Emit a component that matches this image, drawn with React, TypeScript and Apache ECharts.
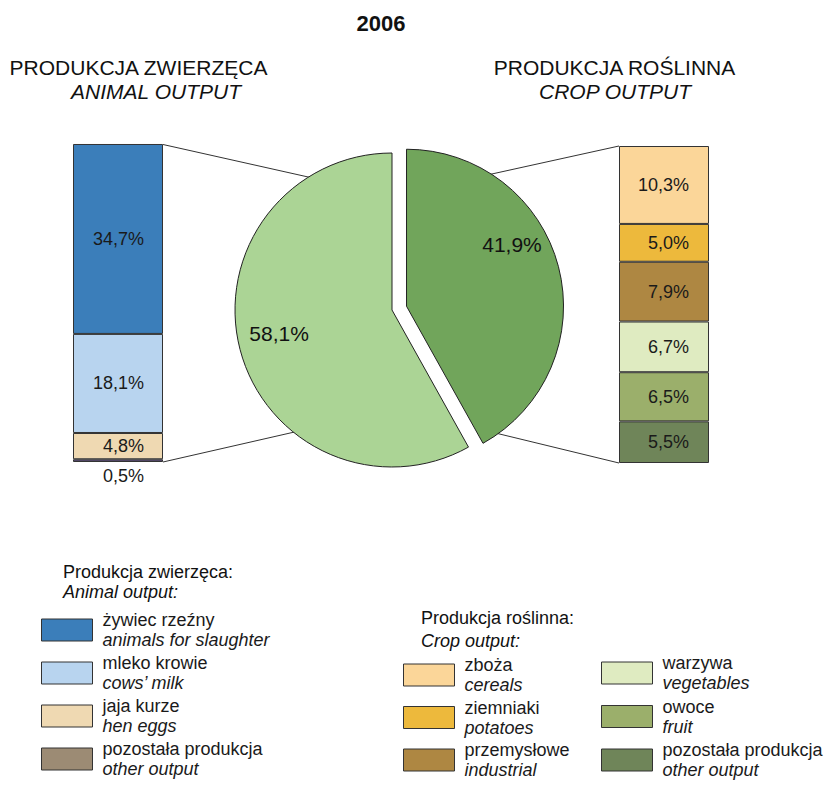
import React, { useEffect, useRef } from "react";
import * as echarts from "echarts";

const FONT = "'Liberation Sans', Arial, Helvetica, sans-serif";

const chartTitle = "2006";
const animalHeading = ["PRODUKCJA ZWIERZĘCA", "ANIMAL OUTPUT"];
const cropHeading = ["PRODUKCJA ROŚLINNA", "CROP OUTPUT"];
const animalLegendHeading = ["Produkcja zwierzęca:", "Animal output:"];
const cropLegendHeading = ["Produkcja roślinna:", "Crop output:"];

// top-to-bottom order in the stacked bars
const animalNamesPl = ["żywiec rzeźny", "mleko krowie", "jaja kurze", "pozostała produkcja"];
const animalNamesEn = ["animals for slaughter", "cows’ milk", "hen eggs", "other output"];
const animalValues = [34.7, 18.1, 4.8, 0.5];
const animalColors = ["#3B7EBA", "#B8D4EF", "#EFD9B2", "#5E4F78"];
const animalLegendColors = ["#3B7EBA", "#B8D4EF", "#EFD9B2", "#9C8B74"];

const cropNamesPl = ["zboża", "ziemniaki", "przemysłowe", "warzywa", "owoce", "pozostała produkcja"];
const cropNamesEn = ["cereals", "potatoes", "industrial", "vegetables", "fruit", "other output"];
const cropValues = [10.3, 5.0, 7.9, 6.7, 6.5, 5.5];
const cropColors = ["#FBD699", "#EDB93C", "#AE8742", "#DFEBC1", "#9BAF6B", "#6F8559"];

const pieColors = { crop: "#71A55B", animal: "#ABD495" };

const fmt = (v: number) => v.toFixed(1).replace(".", ",") + "%";
const sum = (a: number[]) => Math.round(a.reduce((s, v) => s + v, 0) * 10) / 10;

export default function App() {
  const ref = useRef<HTMLDivElement>(null);

  useEffect(() => {
    if (!ref.current) return;
    const chart = echarts.init(ref.current, null, { renderer: "svg" });

    const animalTotal = sum(animalValues);
    const cropTotal = sum(cropValues);

    const nameMap: Record<string, [string, string]> = {};
    animalNamesPl.forEach((n, i) => (nameMap["a" + i] = [n, animalNamesEn[i]]));
    cropNamesPl.forEach((n, i) => (nameMap["c" + i] = [n, cropNamesEn[i]]));

    const barBorder = { borderColor: "#333333", borderWidth: 1 };
    const series: any[] = [];

    for (let i = animalValues.length - 1; i >= 0; i--) {
      const last = i === animalValues.length - 1;
      series.push({
        type: "bar",
        name: "a" + i,
        stack: "animal",
        xAxisIndex: 0,
        yAxisIndex: 0,
        barWidth: "100%",
        data: [animalValues[i]],
        itemStyle: { color: animalColors[i], ...barBorder },
        label: {
          show: true,
          position: last ? "bottom" : "inside",
          distance: 5,
          align: "right",
          offset: [26, 0],
          formatter: (p: any) => fmt(p.value),
          fontSize: 18,
          fontFamily: FONT,
          color: "#1a1a1a",
        },
      });
    }
    for (let i = cropValues.length - 1; i >= 0; i--) {
      series.push({
        type: "bar",
        name: "c" + i,
        stack: "crop",
        xAxisIndex: 1,
        yAxisIndex: 1,
        barWidth: "100%",
        data: [cropValues[i]],
        itemStyle: { color: cropColors[i], ...barBorder },
        label: {
          show: true,
          position: "inside",
          align: "right",
          offset: [25, 0],
          formatter: (p: any) => fmt(p.value),
          fontSize: 18,
          fontFamily: FONT,
          color: "#1a1a1a",
        },
      });
    }

    const pieLabel = {
      show: true,
      position: "inside",
      formatter: (p: any) => fmt(p.value),
      fontSize: 21,
      fontFamily: FONT,
      color: "#111111",
    };
    const cropOffset = [27, -52];
    const animalOffset = [-34, 3];

    series.push({
      type: "pie",
      name: "total",
      center: [392, 310],
      radius: 157,
      startAngle: 90,
      clockwise: true,
      selectedMode: "single",
      selectedOffset: 15,
      emphasis: { disabled: true },
      label: pieLabel,
      labelLine: { show: false },
      itemStyle: { borderColor: "#222222", borderWidth: 1 },
      data: [
        {
          value: cropTotal,
          name: "crop",
          selected: true,
          itemStyle: { color: pieColors.crop },
          label: { offset: cropOffset },
          select: {
            itemStyle: { color: pieColors.crop, borderColor: "#222222", borderWidth: 1 },
            label: { ...pieLabel, offset: cropOffset },
          },
        },
        {
          value: animalTotal,
          name: "animal",
          itemStyle: { color: pieColors.animal },
          label: { offset: animalOffset },
          select: { label: { ...pieLabel, offset: animalOffset } },
        },
      ],
    });

    const legendText = {
      formatter: (name: string) => `{a|${nameMap[name][0]}}\n{b|${nameMap[name][1]}}`,
      textStyle: {
        rich: {
          a: { fontSize: 18, lineHeight: 20, fontFamily: FONT, color: "#1a1a1a", padding: [0, 0, 0, 5] },
          b: { fontSize: 18, lineHeight: 20, fontFamily: FONT, fontStyle: "italic", color: "#1a1a1a", padding: [0, 0, 0, 5] },
        },
      },
    };
    const legendBase = {
      orient: "vertical",
      icon: "rect",
      itemWidth: 51,
      itemHeight: 22,
      padding: 0,
      selectedMode: false,
      itemStyle: { borderColor: "#333333", borderWidth: 1 },
      ...legendText,
    };
    const legItem = (name: string, color: string) => ({
      name,
      itemStyle: { color, borderColor: "#333333", borderWidth: 1 },
    });

    const t = (text: string, x: number, y: number, size: number, opts: any = {}) => ({
      type: "text",
      x,
      y,
      z: 10,
      style: {
        text,
        font: `${opts.italic ? "italic " : ""}${opts.bold ? "bold " : ""}${size}px ${FONT}`,
        fill: "#111111",
        textAlign: opts.align || "center",
        textVerticalAlign: "middle",
      },
    });
    const ln = (x1: number, y1: number, x2: number, y2: number) => ({
      type: "line",
      z: 0,
      shape: { x1, y1, x2, y2 },
      style: { stroke: "#333333", lineWidth: 1 },
    });

    chart.setOption({
      animation: false,
      backgroundColor: "#ffffff",
      grid: [
        { left: 73, top: 144, width: 90, height: 318 },
        { left: 619, top: 146, width: 90, height: 317 },
      ],
      xAxis: [
        { type: "category", data: ["a"], gridIndex: 0, show: false },
        { type: "category", data: ["c"], gridIndex: 1, show: false },
      ],
      yAxis: [
        { type: "value", min: 0, max: animalTotal, gridIndex: 0, show: false },
        { type: "value", min: 0, max: cropTotal, gridIndex: 1, show: false },
      ],
      legend: [
        {
          ...legendBase,
          left: 41,
          top: 611,
          itemGap: 5,
          data: animalLegendColors.map((c, i) => legItem("a" + i, c)),
        },
        {
          ...legendBase,
          left: 403,
          top: 656,
          itemGap: 4.5,
          data: [0, 1, 2].map((i) => legItem("c" + i, cropColors[i])),
        },
        {
          ...legendBase,
          left: 601,
          top: 654,
          itemGap: 5.5,
          data: [3, 4, 5].map((i) => legItem("c" + i, cropColors[i])),
        },
      ],
      graphic: [
        ln(163, 144.5, 330, 181.9),
        ln(163, 462, 320, 426.2),
        ln(619, 146, 470, 178.8),
        ln(619, 463, 488, 431.2),
        t(chartTitle, 381, 23, 22, { bold: true }),
        t(animalHeading[0], 138.5, 67, 21),
        t(animalHeading[1], 156, 91, 21, { italic: true }),
        t(cropHeading[0], 614.5, 67, 21),
        t(cropHeading[1], 615, 91, 21, { italic: true }),
        t(animalLegendHeading[0], 63, 572, 18, { align: "left" }),
        t(animalLegendHeading[1], 63, 592, 18, { align: "left", italic: true }),
        t(cropLegendHeading[0], 421, 618, 18, { align: "left" }),
        t(cropLegendHeading[1], 421, 641, 18, { align: "left", italic: true }),
      ],
      series,
    });

    return () => chart.dispose();
  }, []);

  return (
    <div
      ref={ref}
      style={{ position: "fixed", left: 0, top: 0, width: 830, height: 788, background: "#fff" }}
    />
  );
}
